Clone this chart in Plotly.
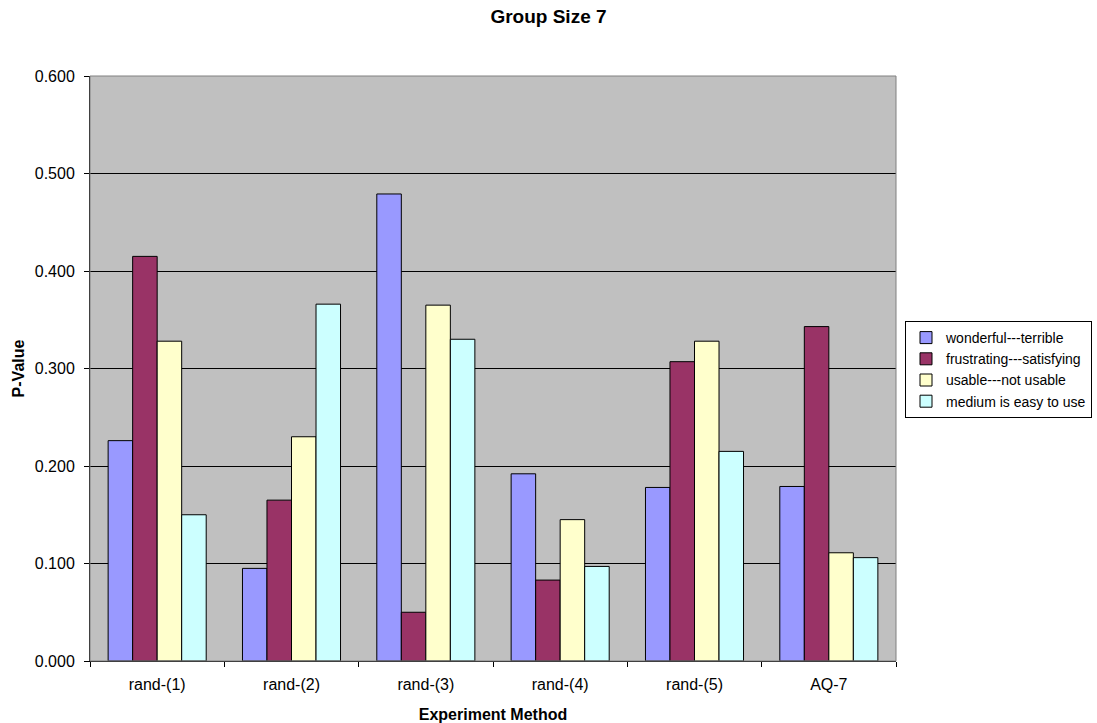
import plotly.graph_objects as go

categories = ["rand-(1)", "rand-(2)", "rand-(3)", "rand-(4)", "rand-(5)", "AQ-7"]
series_names = ["wonderful---terrible", "frustrating---satisfying",
                "usable---not usable", "medium is easy to use"]
wonderful = [0.226, 0.095, 0.479, 0.192, 0.178, 0.179]
frustrating = [0.415, 0.165, 0.050, 0.083, 0.307, 0.343]
usable = [0.328, 0.230, 0.365, 0.145, 0.328, 0.111]
medium = [0.150, 0.366, 0.330, 0.097, 0.215, 0.106]
colors = ["#9999FF", "#993366", "#FFFFCC", "#CCFFFF"]

fig = go.Figure()
for i, (name, vals, col) in enumerate(zip(series_names, [wonderful, frustrating, usable, medium], colors)):
    fig.add_trace(go.Bar(x=categories, y=vals, name=name, legendgroup=f"g{i}",
                         marker=dict(color=col, line=dict(color="black", width=1))))

font_family = "Liberation Sans, Arial, sans-serif"
fig.update_layout(
    width=1097, height=723,
    margin=dict(l=90, r=201, t=76, b=62, autoexpand=False),
    paper_bgcolor="white", plot_bgcolor="#C0C0C0",
    barmode="group", bargap=0.27, bargroupgap=0,
    font=dict(family=font_family, size=16, color="black"),
    title=dict(text="<b>Group Size 7</b>", x=0.5, xanchor="center", y=0.977, yanchor="middle",
               font=dict(size=19, family=font_family, color="black")),
    legend=dict(x=905 / 1097, xanchor="left", y=1 - 321 / 723, yanchor="top",
                xref="container", yref="container",
                bgcolor="white", bordercolor="black", borderwidth=1,
                font=dict(size=14, family=font_family),
                itemwidth=30, traceorder="normal", tracegroupgap=3),
    showlegend=True,
)
fig.update_xaxes(
    showline=True, linecolor="black", linewidth=1,
    ticks="outside", tickson="boundaries", ticklen=5, tickcolor="black",
    showgrid=False, ticklabelstandoff=9,
    title=dict(text="<b>Experiment Method</b>", font=dict(size=16), standoff=16),
)
fig.update_yaxes(
    range=[0, 0.6], dtick=0.1, tickformat=".3f",
    showline=True, linecolor="black", linewidth=1,
    ticks="outside", ticklen=5, tickcolor="black",
    showgrid=True, gridcolor="black", gridwidth=1, zeroline=False,
    ticklabelstandoff=6,
    title=dict(text="<b>P-Value</b>", font=dict(size=16), standoff=6),
)
fig.add_shape(type="rect", xref="paper", yref="paper", x0=0, x1=1, y0=0, y1=1,
              line=dict(color="#808080", width=1), layer="above")
fig.write_html("out.html")
